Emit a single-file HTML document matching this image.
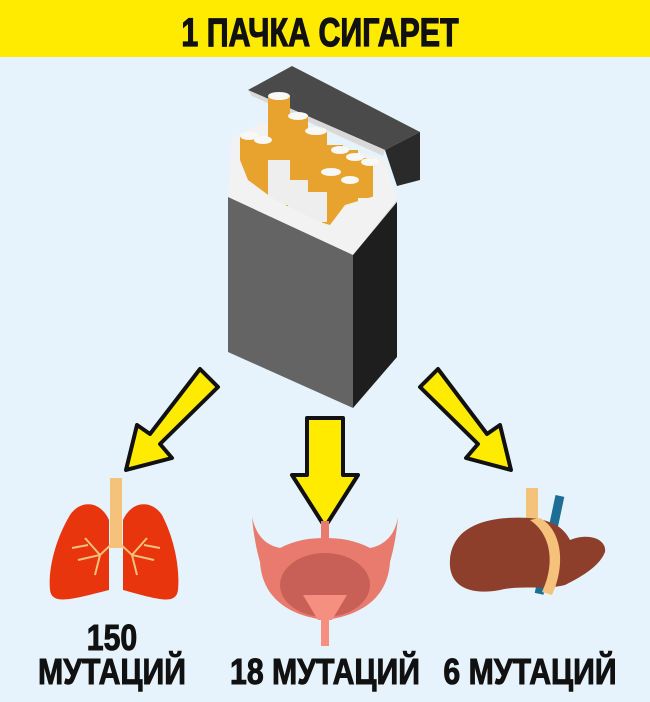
<!DOCTYPE html>
<html><head><meta charset="utf-8"><style>
html,body{margin:0;padding:0;background:#E6F3FC;width:650px;height:702px;overflow:hidden}
svg{display:block}
text{font-family:"Liberation Sans",sans-serif;font-weight:bold}
</style></head><body>
<svg width="650" height="702" viewBox="0 0 650 702" xmlns="http://www.w3.org/2000/svg">
<rect x="0" y="0" width="650" height="702" fill="#E6F3FC"/>
<rect x="0" y="0" width="650" height="57" fill="#FFEB00"/>
<text x="320" y="46" font-size="40" text-anchor="middle" stroke="#111" stroke-width="1.2" transform="translate(320 0) scale(0.76 1) translate(-320 0)" fill="#111">1 ПАЧКА СИГАРЕТ</text>

<!-- lid -->
<polygon points="248,90 292,66 420,132 385,150" fill="#4a4a4a"/>
<polygon points="385,150 420,132 420,180 397,186" fill="#2a2a2a"/>
<polygon points="248,90 385,150 383,156 252,96" fill="#d9d9d9"/>
<!-- inner white box back -->
<polygon points="232,138 262,122 385,160 397,200 353,255 228,197" fill="#f2f2f2"/>
<!-- cigarettes -->
<g fill="#E8A32E">
<rect x="240" y="136" width="18" height="60"/>
<rect x="254" y="140" width="18" height="60"/>
<rect x="268" y="96" width="22" height="110"/>
<rect x="288" y="115" width="20" height="100"/>
<rect x="305" y="130" width="22" height="90"/>
<rect x="325" y="145" width="18" height="50"/>
<rect x="340" y="150" width="18" height="50"/>
<rect x="355" y="158" width="18" height="40"/>
<rect x="322" y="175" width="18" height="60"/>
<rect x="340" y="178" width="18" height="40"/>
</g>
<g fill="#eeeeee">
<rect x="268" y="160" width="22" height="45"/>
<rect x="288" y="180" width="20" height="35"/>
<rect x="305" y="192" width="22" height="30"/>
</g>
<g fill="#f8f8f8">
<ellipse cx="279" cy="96" rx="11" ry="4"/>
<ellipse cx="298" cy="116" rx="10" ry="4"/>
<ellipse cx="316" cy="131" rx="11" ry="4"/>
<ellipse cx="249" cy="136" rx="9" ry="4"/>
<ellipse cx="263" cy="140" rx="9" ry="4"/>
<ellipse cx="340" cy="150" rx="9" ry="4"/>
<ellipse cx="355" cy="157" rx="9" ry="4"/>
<ellipse cx="370" cy="162" rx="9" ry="4"/>
<ellipse cx="331" cy="172" rx="10" ry="4"/>
<ellipse cx="350" cy="180" rx="9" ry="4"/>
</g>
<!-- front white flap -->
<polygon points="228,197 232,140 248,180 275,200 320,222 330,225 345,205 395,190 397,200 353,255" fill="#f2f2f2"/>
<polygon points="353,255 397,200 397,210 353,262" fill="#dcdcdc"/>
<!-- front face -->
<polygon points="228,197 353,255 353,408 228,352" fill="#646464"/>
<polygon points="353,255 397,202 397,357 353,408" fill="#1e1e1e"/>

<!-- arrows -->
<g fill="#FFEB00" stroke="#111" stroke-width="4" stroke-linejoin="round">
<polygon points="200,369 218,387 160,444 172,458 126,470 137,425 150,434"/>
<polygon points="307,418 343,418 343,475 358,475 325,527 292,475 307,475"/>
<polygon points="438,369 420,387 478,444 466,458 511,470 500,425 487,434"/>
</g>

<!-- lungs -->
<rect x="110" y="478" width="12" height="70" fill="#F4C27A"/>
<path d="M109,520 C100,500 80,500 70,515 C55,540 48,570 50,590 C52,605 70,600 109,590 Z" fill="#E8350E"/>
<path d="M123,520 C132,500 152,500 162,515 C175,540 180,570 178,590 C176,605 160,600 123,590 Z" fill="#E8350E"/>
<g stroke="#F4C27A" stroke-width="2" fill="none">
<path d="M116,540 L100,555 L78,560 M100,555 L85,538 M100,555 L95,575 M88,545 L72,548"/>
<path d="M116,540 L132,555 L154,560 M132,555 L147,538 M132,555 L137,575 M144,545 L160,548"/>
</g>

<!-- bladder -->
<path d="M252,517 C256,535 265,545 280,548 C295,540 310,538 325,538 C340,538 355,540 370,548 C385,545 395,535 398,517 C396,540 392,555 390,562 C388,595 365,615 325,620 C285,615 262,595 260,562 C258,555 254,540 252,517 Z" fill="#E87B6E"/>
<rect x="321" y="521" width="8" height="20" fill="#E87B6E"/>
<ellipse cx="325" cy="585" rx="45" ry="32" fill="#C96058"/>
<path d="M303,595 L347,595 L332,620 L318,620 Z" fill="#F58F7F"/>
<rect x="321" y="612" width="8" height="34" fill="#F58F7F"/>

<!-- liver -->
<rect x="526" y="488" width="12" height="35" fill="#F4C27A"/>
<rect x="545" y="495" width="9" height="100" fill="#1C6E95" transform="rotate(12 550 545)"/>
<rect x="510" y="570" width="40" height="12" rx="5" fill="#F4C27A" transform="rotate(-15 530 576)"/>
<path d="M450,560 C452,530 480,515 530,518 C555,520 565,530 570,540 C590,532 607,540 605,552 C600,565 585,575 565,585 C545,590 520,585 500,590 C468,596 448,585 450,560 Z" fill="#8E3F2C"/>
<path d="M540,518 C562,530 566,565 552,595 L542,592 C555,565 552,535 530,520 Z" fill="#F4C27A"/>

<g fill="#111" stroke="#111" stroke-width="1">
<text x="112" y="650" font-size="36" text-anchor="middle" transform="translate(112 0) scale(0.84 1) translate(-112 0)">150</text>
<text x="112" y="684" font-size="36" text-anchor="middle" transform="translate(112 0) scale(0.84 1) translate(-112 0)">МУТАЦИЙ</text>
<text x="325" y="684" font-size="36" text-anchor="middle" transform="translate(325 0) scale(0.84 1) translate(-325 0)">18 МУТАЦИЙ</text>
<text x="530" y="684" font-size="36" text-anchor="middle" transform="translate(530 0) scale(0.84 1) translate(-530 0)">6 МУТАЦИЙ</text>
</g>
</svg>
</body></html>
